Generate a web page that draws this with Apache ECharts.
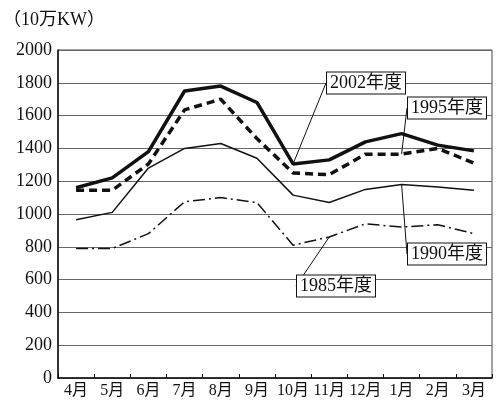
<!DOCTYPE html>
<html>
<head>
<meta charset="utf-8">
<script src="https://cdn.jsdelivr.net/npm/echarts@6/dist/echarts.min.js"></script>
<style>
  html, body { margin: 0; padding: 0; background: #fff; }
  #chart { width: 499px; height: 402px; }
</style>
</head>
<body>
<div id="chart"></div>
<script>
// 月份（年度は4月始まり）
const months = ['4月', '5月', '6月', '7月', '8月', '9月', '10月', '11月', '12月', '1月', '2月', '3月']
const yTicks = [0, 200, 400, 600, 800, 1000, 1200, 1400, 1600, 1800, 2000]

// 各年度の最大電力（10万KW）
const fy2002 = [1160, 1220, 1380, 1750, 1780, 1680, 1305, 1330, 1440, 1490, 1420, 1385]
const fy1995 = [1145, 1145, 1305, 1635, 1700, 1460, 1250, 1240, 1365, 1365, 1400, 1310]
const fy1990 = [965, 1010, 1280, 1400, 1430, 1340, 1115, 1070, 1150, 1180, 1165, 1145]
const fy1985 = [790, 790, 880, 1075, 1100, 1070, 810, 860, 940, 920, 935, 880]

const serif = '"Liberation Serif", "DejaVu Serif", "Noto Sans CJK JP", serif'

// 注記ラベル：どの点から引き出すか、ラベルの位置
function makeSeries(name, data, width, type, labelIdx, labelPos) {
  return {
    name,
    type: 'line',
    data: data.map((v, i) => {
      if (i !== labelIdx) return v
      return {
        value: v,
        label: {
          show: true,
          formatter: name,
          fontFamily: serif,
          fontSize: 18,
          color: '#111',
          backgroundColor: '#fff',
          borderColor: '#111',
          borderWidth: 1,
          padding: [2, 3, 1, 3]
        },
        labelLine: { show: true, lineStyle: { color: '#111', width: 1 } }
      }
    }),
    symbol: 'circle',
    symbolSize: 0,
    showSymbol: true,
    silent: true,
    lineStyle: { color: '#111', width, type },
    itemStyle: { color: '#111' },
    labelLayout: { x: labelPos[0], y: labelPos[1], align: 'center', verticalAlign: 'middle' },
    labelLine: { show: true, lineStyle: { color: '#111', width: 1 } },
    z: 2
  }
}

const chart = echarts.init(document.getElementById('chart'))
chart.setOption({
  animation: false,
  title: {
    text: '（10万KW）',
    left: -2,
    top: 6,
    textStyle: { fontFamily: serif, fontSize: 18, fontWeight: 'normal', color: '#111' }
  },
  grid: {
    left: 58, right: 7, top: 50, bottom: 24,
    show: true, borderColor: '#444', borderWidth: 1
  },
  xAxis: {
    type: 'category',
    data: months,
    boundaryGap: true,
    axisLine: { lineStyle: { color: '#111', width: 1.5 } },
    axisTick: { show: true, inside: true, length: 4, lineStyle: { color: '#111' } },
    axisLabel: { fontFamily: serif, fontSize: 16, color: '#111', margin: 5, interval: 0 }
  },
  yAxis: {
    type: 'value',
    min: yTicks[0],
    max: yTicks[yTicks.length - 1],
    interval: 200,
    axisLine: { show: true, lineStyle: { color: '#111', width: 1.5 } },
    axisTick: { show: false },
    axisLabel: { fontFamily: serif, fontSize: 18, color: '#111', margin: 6, formatter: v => String(v) },
    splitLine: { lineStyle: { color: '#666', width: 1 } }
  },
  series: [
    makeSeries('2002年度', fy2002, 3.5, 'solid', 6, [366, 83]),
    makeSeries('1995年度', fy1995, 3.5, [8, 5], 9, [447, 108]),
    makeSeries('1990年度', fy1990, 1.5, 'solid', 9, [447, 254]),
    makeSeries('1985年度', fy1985, 1.5, [12, 4, 2, 4], 7, [336, 286])
  ]
})
</script>
</body>
</html>
